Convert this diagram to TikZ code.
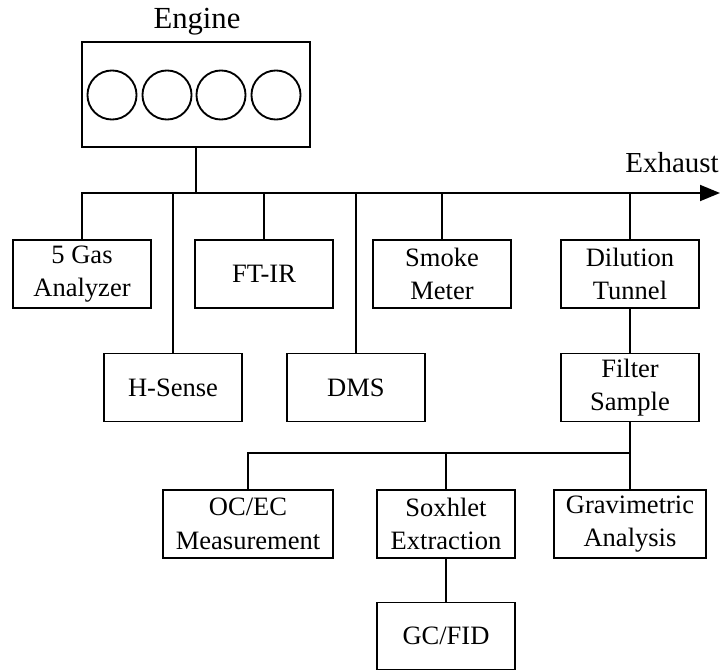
\documentclass[tikz,border=0pt]{standalone}
\usepackage{fontspec}
\setmainfont{Liberation Serif}
\usepackage{tikz}
\usetikzlibrary{positioning, arrows.meta, calc}

\begin{document}
\begin{tikzpicture}[
  x=0.75pt, y=-0.75pt,
  line width=1.4pt,
  unit/.style={draw, rectangle, inner sep=0pt, minimum width=103.5pt,
    minimum height=51pt, align=center, font=\fontsize{19.9}{25}\selectfont},
  wideunit/.style={unit, minimum width=127.5pt},
  title/.style={font=\fontsize{21.75}{26}\selectfont},
  flow/.style={-{Triangle[length=15pt, width=12pt]}},
]
  \useasboundingbox (0,0) rectangle (728,671);

  % Engine at top
  \node[title, font=\fontsize{23}{27}\selectfont] (englabel) at (197,22) {Engine};
  \node[draw, rectangle, minimum width=171pt, minimum height=78.75pt]
    (engine) at (196,94.5) {};
  \foreach \cx in {112,167,221,276}
    \draw (\cx,95) circle[radius=18.4pt];

  % Exhaust line
  \coordinate (tip) at (720,193);
  \node[title] (exlabel) at (672,163) {Exhaust};

  % Row 1: instruments on the exhaust
  \node[unit] (gas) at (82,274) {5 Gas\\Analyzer};
  \node[unit] (ftir) at (264,274) {FT-IR};
  \node[unit] (smoke) at (442,274) {Smoke\\Meter};
  \node[unit] (dilution) at (630,274) {Dilution\\Tunnel};

  % Row 2
  \node[unit] (hsense) at (173,387.5) {H-Sense};
  \node[unit] (dms) at (356,387.5) {DMS};
  \node[unit] (filter) at (630,387.5) {Filter\\Sample};

  % Row 3: filter analysis
  \node[wideunit] (ocec) at (248,524) {OC/EC\\Measurement};
  \node[unit] (soxhlet) at (446,524) {Soxhlet\\Extraction};
  \node[unit, minimum width=114pt] (grav) at (630,524) {Gravimetric\\Analysis};
  \node[unit, minimum height=50.25pt] (gcfid) at (446,636) {GC/FID};

  % Exhaust trunk
  \draw[flow] (gas.north) |- (tip);
  \draw (engine.south) -- (engine.south |- tip);
  \draw (hsense.north) -- (hsense.north |- tip);
  \draw (ftir.north) -- (ftir.north |- tip);
  \draw (dms.north) -- (dms.north |- tip);
  \draw (smoke.north) -- (smoke.north |- tip);
  \draw (dilution.north) -- (dilution.north |- tip);

  % Dilution to filter
  \draw (dilution) -- (filter);

  % Filter split
  \coordinate (fork) at (630,453);
  \draw (filter) -- (grav);
  \draw (ocec.north) |- (fork);
  \draw (soxhlet.north) -- (soxhlet.north |- fork);
  \draw (soxhlet) -- (gcfid);
\end{tikzpicture}
\end{document}
